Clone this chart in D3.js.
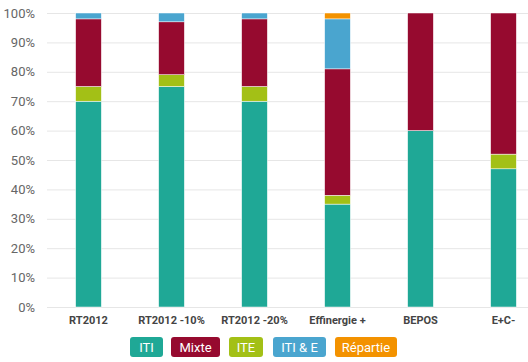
<!DOCTYPE html>
<html>
<head>
<meta charset="utf-8">
<script src="https://cdn.jsdelivr.net/npm/d3@7"></script>
<style>
  body { margin: 0; background: #fff; font-family: Roboto, sans-serif; }
</style>
</head>
<body>
<div id="chart"></div>
<script>
const categories = ["RT2012", "RT2012 -10%", "RT2012 -20%", "Effinergie +", "BEPOS", "E+C-"];
const seriesNames = ["ITI", "ITE", "Mixte", "ITI & E", "Répartie"];
const legendOrder = ["ITI", "Mixte", "ITE", "ITI & E", "Répartie"];
const iti = [70, 75, 70, 35, 60, 47];
const ite = [5, 4, 5, 3, 0, 5];
const mixte = [23, 18, 23, 43, 40, 48];
const itiE = [2, 3, 2, 17, 0, 0];
const repartie = [0, 0, 0, 2, 0, 0];
const yTicks = [0, 10, 20, 30, 40, 50, 60, 70, 80, 90, 100];

const colors = {
  "ITI": "#1fa896",
  "Mixte": "#960a2f",
  "ITE": "#a3c016",
  "ITI & E": "#4aa5cf",
  "Répartie": "#f39200"
};

const width = 528, height = 362;
const svg = d3.select("#chart").append("svg")
  .attr("width", width)
  .attr("height", height);

// table for stacking
const rows = categories.map((c, i) => ({
  cat: c,
  "ITI": iti[i], "ITE": ite[i], "Mixte": mixte[i], "ITI & E": itiE[i], "Répartie": repartie[i]
}));
const stacked = d3.stack().keys(seriesNames)(rows);

const x = d3.scaleBand().domain(categories).range([47, 545]).paddingInner(0.69).paddingOuter(0.345);
const y = d3.scaleLinear().domain([0, 100]).range([307, 13]);

// grid
svg.append("g").selectAll("line")
  .data(yTicks).enter().append("line")
  .attr("x1", 47).attr("x2", width)
  .attr("y1", d => y(d) + 0.5).attr("y2", d => y(d) + 0.5)
  .attr("stroke", "#e6e6e6");

// y labels
svg.append("g").selectAll("text")
  .data(yTicks).enter().append("text")
  .attr("x", 35)
  .attr("y", d => y(d) + 4.5)
  .attr("text-anchor", "end")
  .style("font-size", "13px")
  .attr("fill", "#666")
  .text(d => d + "%");

// bars
svg.append("g").selectAll("g")
  .data(stacked).enter().append("g")
  .attr("fill", d => colors[d.key])
  .selectAll("rect")
  .data(d => d.filter(s => s[1] - s[0] > 0)).enter().append("rect")
  .attr("x", d => x(d.data.cat))
  .attr("width", x.bandwidth())
  .attr("y", d => y(d[1]))
  .attr("height", d => y(d[0]) - y(d[1]))
  .attr("stroke", "#fff")
  .attr("stroke-width", 0.5);

// x labels
svg.append("g").selectAll("text")
  .data(categories).enter().append("text")
  .attr("x", d => x(d) + x.bandwidth() / 2)
  .attr("y", 324)
  .attr("text-anchor", "middle")
  .style("font-size", "11px")
  .style("font-weight", "bold")
  .attr("fill", "#444")
  .text(d => d);

// legend badges
const legendBoxes = [[130, 33], [171, 49], [229, 34], [273, 53], [335, 62]];
const legend = svg.append("g").selectAll("g")
  .data(legendOrder).enter().append("g")
  .attr("transform", (d, i) => `translate(${legendBoxes[i][0]},337)`);
legend.append("rect")
  .attr("width", (d, i) => legendBoxes[i][1])
  .attr("height", 20)
  .attr("rx", 3)
  .attr("fill", d => colors[d]);
legend.append("text")
  .attr("x", (d, i) => legendBoxes[i][1] / 2)
  .attr("y", 14.5)
  .attr("text-anchor", "middle")
  .style("font-size", "13px")
  .attr("fill", "#fff")
  .text(d => d);
</script>
</body>
</html>
